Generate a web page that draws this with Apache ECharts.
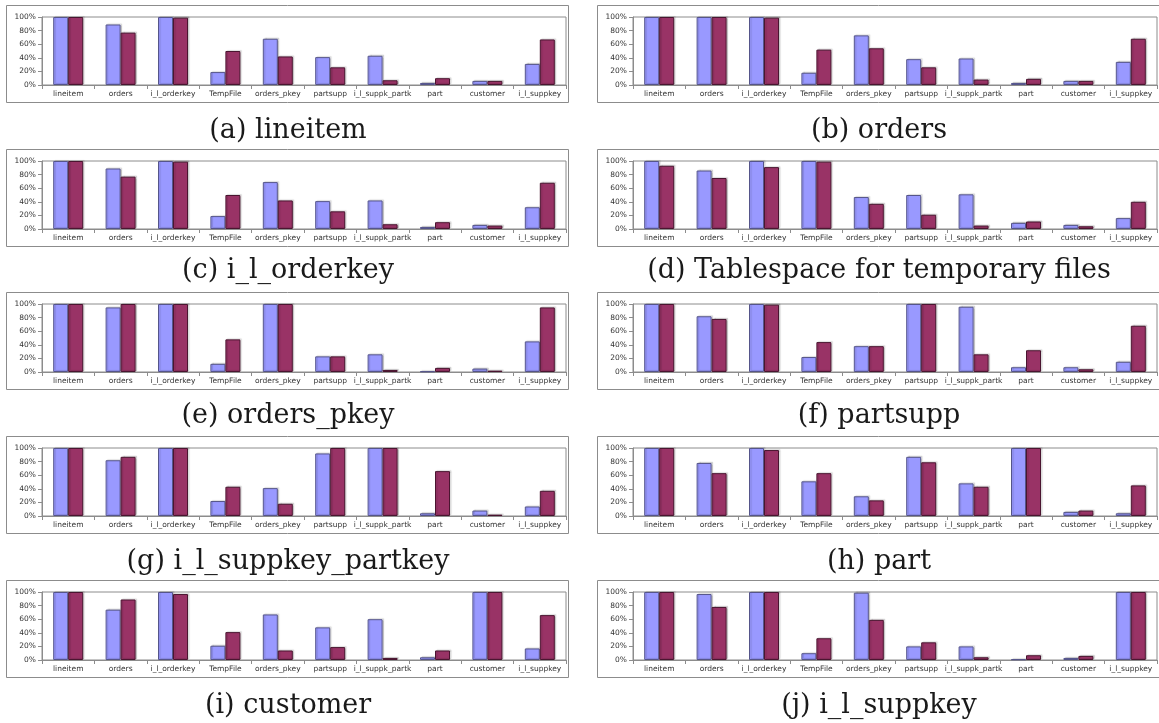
<!DOCTYPE html>
<html>
<head>
<meta charset="utf-8">
<script src="https://cdn.jsdelivr.net/npm/echarts@6/dist/echarts.min.js"></script>
<style>
  html, body { margin: 0; padding: 0; background: #ffffff; }
  #chart { width: 1159px; height: 723px; }
</style>
</head>
<body>
<div id="chart"></div>
<script>
// Objects accessed during each run (x axis), identical for every panel
const categories = ['lineitem', 'orders', 'i_l_orderkey', 'TempFile', 'orders_pkey',
  'partsupp', 'i_l_suppk_partk', 'part', 'customer', 'i_l_suppkey'];

// Y axis ticks (fraction of the maximum)
const yTicks = [0, 0.2, 0.4, 0.6, 0.8, 1.0];

// Panel captions, in reading order
const captions = ['(a) lineitem', '(b) orders', '(c) i_l_orderkey',
  '(d) Tablespace for temporary files', '(e) orders_pkey', '(f) partsupp',
  '(g) i_l_suppkey_partkey', '(h) part', '(i) customer', '(j) i_l_suppkey'];

// Percent values per panel: first series (blue) and second series (purple)
const blueA = [100, 89, 100, 19, 68, 41, 43, 3, 6, 31];
const redA  = [100, 77, 99, 50, 42, 26, 7, 10, 6, 67];
const blueB = [100, 100, 100, 18, 73, 38, 39, 3, 6, 34];
const redB  = [100, 100, 99, 52, 54, 26, 8, 9, 6, 68];
const blueC = [100, 89, 100, 19, 69, 41, 42, 3, 6, 32];
const redC  = [100, 77, 99, 50, 42, 26, 7, 10, 5, 68];
const blueD = [100, 86, 100, 100, 47, 50, 51, 9, 6, 16];
const redD  = [93, 75, 91, 99, 37, 21, 5, 11, 4, 40];
const blueE = [100, 95, 100, 12, 100, 23, 26, 1, 5, 45];
const redE  = [100, 100, 100, 48, 100, 23, 3, 6, 2, 95];
const blueF = [100, 82, 100, 22, 38, 100, 96, 7, 7, 15];
const redF  = [100, 78, 99, 44, 38, 100, 26, 32, 4, 68];
const blueG = [100, 82, 100, 22, 41, 92, 100, 4, 8, 14];
const redG  = [100, 87, 100, 43, 18, 100, 100, 66, 2, 37];
const blueH = [100, 78, 100, 51, 29, 87, 48, 100, 6, 4];
const redH  = [100, 63, 97, 63, 23, 79, 43, 100, 8, 45];
const blueI = [100, 74, 100, 21, 67, 48, 60, 4, 100, 17];
const redI  = [100, 89, 97, 41, 14, 19, 3, 14, 100, 66];
const blueJ = [100, 97, 100, 10, 99, 20, 20, 1, 3, 100];
const redJ  = [100, 78, 100, 32, 59, 26, 4, 7, 6, 100];

const blueSets = [blueA, blueB, blueC, blueD, blueE, blueF, blueG, blueH, blueI, blueJ];
const redSets  = [redA, redB, redC, redD, redE, redF, redG, redH, redI, redJ];

// Layout of the 2 x 5 panel grid
const colLeft = [42, 633];
const plotWidth = 524;
const plotHeight = 68;
const rowTop = [17, 161, 304, 448, 592];
const captionY = [131, 271, 416, 562, 706];
const framePadLeft = 35, framePadRight = 3, framePadTop = 11, framePadBottom = 18;

const chart = echarts.init(document.getElementById('chart'), null, { renderer: 'canvas' });

const grids = [], xAxes = [], yAxes = [], series = [], graphics = [];
const labelFont = 'DejaVu Sans';

for (let i = 0; i < 10; i++) {
  const col = i % 2, row = Math.floor(i / 2);
  const left = colLeft[col], top = rowTop[row];
  grids.push({
    left: left, top: top, width: plotWidth, height: plotHeight,
    show: true, borderColor: '#8c8c8c', borderWidth: 1, backgroundColor: 'transparent'
  });
  xAxes.push({
    type: 'category', gridIndex: i, data: categories,
    axisLine: { lineStyle: { color: '#8c8c8c', width: 1 } },
    axisTick: { show: true, length: 4, lineStyle: { color: '#8c8c8c' } },
    axisLabel: { interval: 0, fontSize: 7.5, fontFamily: labelFont, color: '#333', margin: 5 }
  });
  yAxes.push({
    type: 'value', gridIndex: i, min: yTicks[0], max: yTicks[yTicks.length - 1],
    interval: yTicks[1] - yTicks[0],
    splitLine: { show: false },
    axisLine: { show: true, lineStyle: { color: '#8c8c8c', width: 1 } },
    axisTick: { show: true, length: 4, lineStyle: { color: '#8c8c8c' } },
    axisLabel: {
      fontSize: 7.5, fontFamily: labelFont, color: '#333', margin: 6,
      formatter: v => Math.round(v * 100) + '%'
    }
  });
  const shadow = { shadowColor: 'rgba(0,0,0,0.15)', shadowBlur: 1, shadowOffsetX: 1.5, shadowOffsetY: -1 };
  series.push({
    type: 'bar', xAxisIndex: i, yAxisIndex: i, barWidth: 15, barGap: '0%',
    data: blueSets[i].map(v => v / 100),
    itemStyle: Object.assign({ color: '#9999ff', borderColor: '#55558a', borderWidth: 1 }, shadow),
    emphasis: { disabled: true }, animation: false
  });
  series.push({
    type: 'bar', xAxisIndex: i, yAxisIndex: i, barWidth: 15, barGap: '0%',
    data: redSets[i].map(v => v / 100),
    itemStyle: Object.assign({ color: '#993366', borderColor: '#4a1530', borderWidth: 1 }, shadow),
    emphasis: { disabled: true }, animation: false
  });
  // outer frame around each panel
  const fx = left - framePadLeft, fw = framePadLeft + plotWidth + framePadRight;
  graphics.push({
    type: 'rect', silent: true,
    shape: { x: fx - 0.5, y: top - framePadTop - 0.5, width: fw,
             height: framePadTop + plotHeight + framePadBottom },
    style: { fill: 'none', stroke: '#8c8c8c', lineWidth: 1 }
  });
  // caption under each panel
  graphics.push({
    type: 'text', silent: true,
    x: fx + fw / 2, y: captionY[row],
    style: {
      text: captions[i], fill: '#1a1a1a', font: '27px "DejaVu Serif"',
      align: 'center', verticalAlign: 'middle'
    }
  });
}

chart.setOption({
  animation: false,
  backgroundColor: '#ffffff',
  grid: grids, xAxis: xAxes, yAxis: yAxes, series: series,
  graphic: graphics
});
</script>
</body>
</html>
